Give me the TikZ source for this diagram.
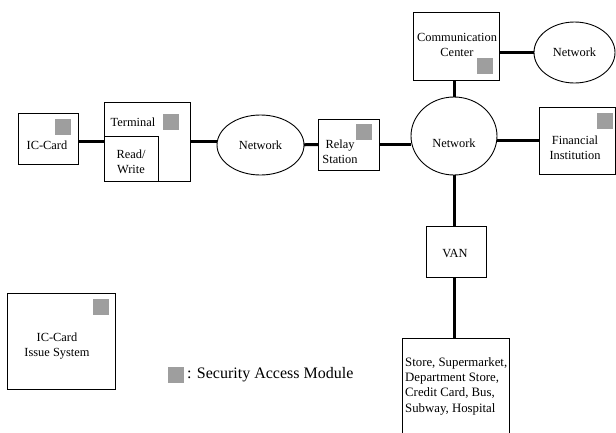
\documentclass[tikz,border=0pt]{standalone}
\usepackage{fontspec}
\setmainfont{Liberation Serif}
\usepackage{tikz}
\usetikzlibrary{shapes.geometric,positioning}
\definecolor{samgray}{RGB}{158, 158, 158}

\begin{document}
\begin{tikzpicture}[x=1pt, y=-1pt,
  box/.style={draw, rectangle, line width=0.9pt, inner sep=0pt, outer sep=0pt},
  cloud/.style={draw, ellipse, line width=0.9pt, inner sep=0pt, outer sep=0pt, font=\fontsize{12.4}{15}\selectfont},
  sam/.style={fill=samgray, rectangle, inner sep=0pt, outer sep=0pt, minimum size=16pt},
  txt/.style={font=\fontsize{12.4}{15}\selectfont, align=center, inner sep=0pt},
  link/.style={line width=3pt}
]
\clip (0,0) rectangle (616,432);

\node[box, minimum width=60pt, minimum height=51pt] (icc) at (48,138.5) {};
\node[box, minimum width=86pt, minimum height=79pt] (term) at (147,141.5) {};
\node[box, minimum width=54pt, minimum height=45pt] (rw) at (131,158.5) {};
\node[cloud, minimum width=87pt, minimum height=60pt] (net1) at (260.5,145) {Network};
\node[box, minimum width=61pt, minimum height=51pt] (relay) at (348.5,144.5) {};
\node[cloud, minimum width=86pt, minimum height=78pt] (net2) at (454,136) {};
\node[box, minimum width=86pt, minimum height=68pt] (cc) at (456,46) {};
\node[cloud, minimum width=81pt, minimum height=61pt] (net3) at (574.5,52.5) {Network};
\node[box, minimum width=76pt, minimum height=67pt] (fin) at (577,140.5) {};
\node[box, minimum width=60pt, minimum height=51pt] (van) at (456,251.5) {};
\node[box, minimum width=107pt, minimum height=102pt] (store) at (455.5,389) {};
\node[box, minimum width=108pt, minimum height=96pt] (iss) at (61,341) {};

\node[txt] (icc-t) at (47,145) {IC-Card};
\node[txt] (term-t) at (133,122) {Terminal};
\node[txt] (rw-t) at (131,161.5) {Read/\\Write};
\node[txt] (relay-t) at (340,151.5) {Relay\\Station};
\node[txt] (net2-t) at (454,143) {Network};
\node[txt] (cc-t) at (457,45) {Communication\\Center};
\node[txt] (fin-t) at (575,148) {Financial\\Institution};
\node[txt] (van-t) at (455,253) {VAN};
\node[txt, align=left, anchor=west, font=\fontsize{12.8}{15.3}\selectfont] (store-t) at (405,386) {Store, Supermarket,\\Department Store,\\Credit Card, Bus,\\Subway, Hospital};
\node[txt] (iss-t) at (57,346.5) {IC-Card\\Issue System};

\node[sam, below left=6pt and 7pt of icc.north east] (icc-sam) {};
\node[sam, below left=12pt and 11pt of term.north east] (term-sam) {};
\node[sam, below left=5pt and 7pt of relay.north east] (relay-sam) {};
\node[sam, above left=6pt and 6pt of cc.south east] (cc-sam) {};
\node[sam, below left=6pt and 2pt of fin.north east] (fin-sam) {};
\node[sam, below left=6pt and 6pt of iss.north east] (iss-sam) {};

\node[sam] (key) at (176,375) {};
\node[txt, right=3pt of key, font=\fontsize{16}{18}\selectfont] (key-t) {: Security Access Module};

\draw[link] (term.west) -- (term.west -| icc.east);
\draw[link] (term.east) -- (term.east -| net1.west);
\draw[link] (net1) -- (relay);
\draw[link] (relay.east) -- (relay.east -| net2.west);
\draw[link] (fin.west) -- (fin.west -| net2.east);
\draw[link] (net2.north) -- (net2.north |- cc.south);
\draw[link] (net3.west) -- (net3.west -| cc.east);
\draw[link] (net2.south) -- (net2.south |- van.north);
\draw[link] (van.south -| net2.south) -- (net2.south |- store.north);

\end{tikzpicture}
\end{document}
